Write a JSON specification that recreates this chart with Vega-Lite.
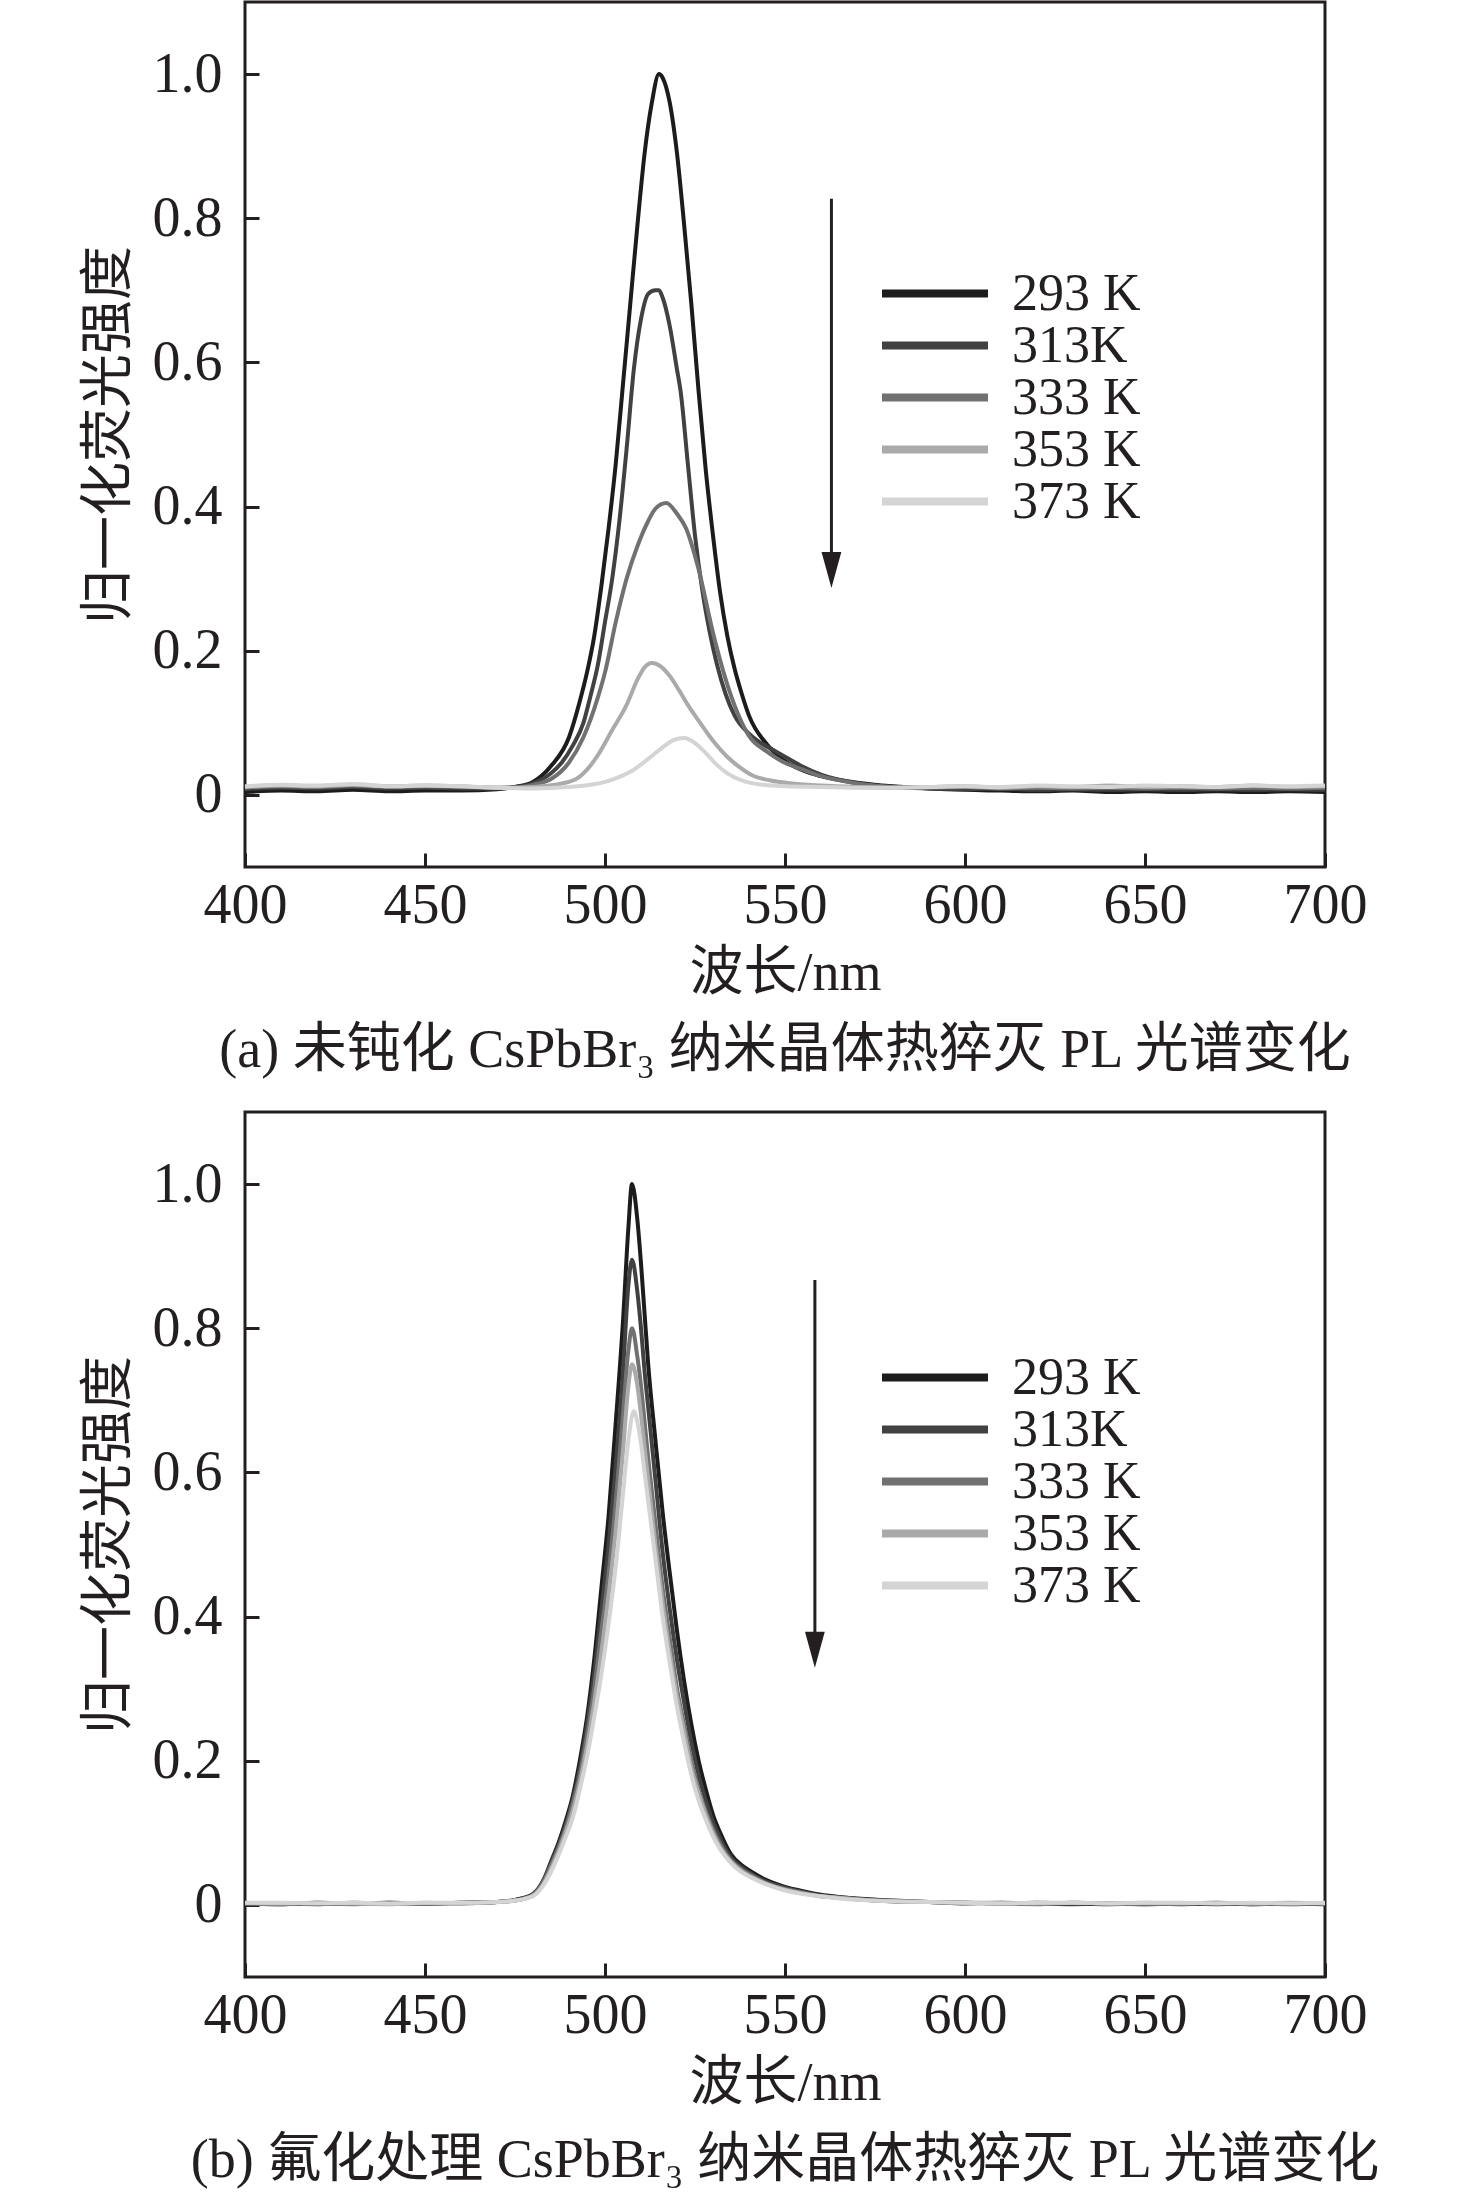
{
  "$schema": "https://vega.github.io/schema/vega-lite/v6.json",
  "background": "white",
  "padding": {"left": 80, "top": 0, "right": 0, "bottom": 0},
  "spacing": 30,
  "datasets": {
    "a": [
      {"T":"293 K","wl":400,"I":0.004},{"T":"293 K","wl":410,"I":0.006},{"T":"293 K","wl":420,"I":0.005},{"T":"293 K","wl":430,"I":0.007},{"T":"293 K","wl":440,"I":0.005},{"T":"293 K","wl":450,"I":0.006},{"T":"293 K","wl":460,"I":0.006},{"T":"293 K","wl":470,"I":0.008},{"T":"293 K","wl":475,"I":0.011},{"T":"293 K","wl":480,"I":0.018},{"T":"293 K","wl":485,"I":0.04},{"T":"293 K","wl":490,"I":0.08},{"T":"293 K","wl":493,"I":0.13},{"T":"293 K","wl":495,"I":0.17},{"T":"293 K","wl":497,"I":0.22},{"T":"293 K","wl":499,"I":0.29},{"T":"293 K","wl":501,"I":0.37},{"T":"293 K","wl":503,"I":0.46},{"T":"293 K","wl":505,"I":0.57},{"T":"293 K","wl":507,"I":0.68},{"T":"293 K","wl":509,"I":0.79},{"T":"293 K","wl":511,"I":0.89},{"T":"293 K","wl":513,"I":0.96},{"T":"293 K","wl":515,"I":1.0},{"T":"293 K","wl":516,"I":0.995},{"T":"293 K","wl":518,"I":0.96},{"T":"293 K","wl":520,"I":0.89},{"T":"293 K","wl":522,"I":0.79},{"T":"293 K","wl":524,"I":0.68},{"T":"293 K","wl":526,"I":0.56},{"T":"293 K","wl":528,"I":0.45},{"T":"293 K","wl":530,"I":0.36},{"T":"293 K","wl":532,"I":0.28},{"T":"293 K","wl":534,"I":0.22},{"T":"293 K","wl":536,"I":0.175},{"T":"293 K","wl":538,"I":0.14},{"T":"293 K","wl":540,"I":0.11},{"T":"293 K","wl":545,"I":0.07},{"T":"293 K","wl":550,"I":0.047},{"T":"293 K","wl":555,"I":0.034},{"T":"293 K","wl":560,"I":0.026},{"T":"293 K","wl":570,"I":0.017},{"T":"293 K","wl":580,"I":0.012},{"T":"293 K","wl":590,"I":0.009},{"T":"293 K","wl":600,"I":0.007},{"T":"293 K","wl":610,"I":0.006},{"T":"293 K","wl":620,"I":0.005},{"T":"293 K","wl":630,"I":0.006},{"T":"293 K","wl":640,"I":0.004},{"T":"293 K","wl":650,"I":0.005},{"T":"293 K","wl":660,"I":0.004},{"T":"293 K","wl":670,"I":0.005},{"T":"293 K","wl":680,"I":0.004},{"T":"293 K","wl":690,"I":0.005},{"T":"293 K","wl":700,"I":0.004},

      {"T":"313K","wl":400,"I":0.008},{"T":"313K","wl":410,"I":0.01},{"T":"313K","wl":420,"I":0.009},{"T":"313K","wl":430,"I":0.011},{"T":"313K","wl":440,"I":0.009},{"T":"313K","wl":450,"I":0.01},{"T":"313K","wl":460,"I":0.009},{"T":"313K","wl":470,"I":0.009},{"T":"313K","wl":475,"I":0.011},{"T":"313K","wl":480,"I":0.016},{"T":"313K","wl":485,"I":0.03},{"T":"313K","wl":488,"I":0.045},{"T":"313K","wl":491,"I":0.068},{"T":"313K","wl":494,"I":0.1},{"T":"313K","wl":496,"I":0.138},{"T":"313K","wl":498,"I":0.18},{"T":"313K","wl":500,"I":0.24},{"T":"313K","wl":502,"I":0.3},{"T":"313K","wl":504,"I":0.38},{"T":"313K","wl":506,"I":0.48},{"T":"313K","wl":508,"I":0.59},{"T":"313K","wl":510,"I":0.66},{"T":"313K","wl":512,"I":0.695},{"T":"313K","wl":514,"I":0.7},{"T":"313K","wl":515,"I":0.7},{"T":"313K","wl":516,"I":0.69},{"T":"313K","wl":518,"I":0.65},{"T":"313K","wl":520,"I":0.59},{"T":"313K","wl":521,"I":0.56},{"T":"313K","wl":523,"I":0.46},{"T":"313K","wl":525,"I":0.36},{"T":"313K","wl":527,"I":0.285},{"T":"313K","wl":529,"I":0.228},{"T":"313K","wl":531,"I":0.183},{"T":"313K","wl":533.5,"I":0.14},{"T":"313K","wl":536,"I":0.11},{"T":"313K","wl":540,"I":0.085},{"T":"313K","wl":543,"I":0.073},{"T":"313K","wl":546.5,"I":0.063},{"T":"313K","wl":550,"I":0.053},{"T":"313K","wl":555,"I":0.039},{"T":"313K","wl":560,"I":0.028},{"T":"313K","wl":570,"I":0.016},{"T":"313K","wl":580,"I":0.011},{"T":"313K","wl":590,"I":0.009},{"T":"313K","wl":600,"I":0.008},{"T":"313K","wl":610,"I":0.009},{"T":"313K","wl":620,"I":0.007},{"T":"313K","wl":630,"I":0.008},{"T":"313K","wl":640,"I":0.007},{"T":"313K","wl":650,"I":0.008},{"T":"313K","wl":660,"I":0.007},{"T":"313K","wl":670,"I":0.008},{"T":"313K","wl":680,"I":0.007},{"T":"313K","wl":690,"I":0.008},{"T":"313K","wl":700,"I":0.007},

      {"T":"333 K","wl":400,"I":0.01},{"T":"333 K","wl":410,"I":0.012},{"T":"333 K","wl":420,"I":0.011},{"T":"333 K","wl":430,"I":0.013},{"T":"333 K","wl":440,"I":0.011},{"T":"333 K","wl":450,"I":0.012},{"T":"333 K","wl":460,"I":0.011},{"T":"333 K","wl":470,"I":0.01},{"T":"333 K","wl":475,"I":0.01},{"T":"333 K","wl":480,"I":0.014},{"T":"333 K","wl":485,"I":0.022},{"T":"333 K","wl":490,"I":0.045},{"T":"333 K","wl":494,"I":0.08},{"T":"333 K","wl":498,"I":0.135},{"T":"333 K","wl":500,"I":0.17},{"T":"333 K","wl":503,"I":0.24},{"T":"333 K","wl":506,"I":0.3},{"T":"333 K","wl":509,"I":0.345},{"T":"333 K","wl":512,"I":0.38},{"T":"333 K","wl":514,"I":0.397},{"T":"333 K","wl":517,"I":0.405},{"T":"333 K","wl":520,"I":0.39},{"T":"333 K","wl":522.5,"I":0.37},{"T":"333 K","wl":526,"I":0.313},{"T":"333 K","wl":530,"I":0.225},{"T":"333 K","wl":534.5,"I":0.145},{"T":"333 K","wl":540,"I":0.082},{"T":"333 K","wl":545,"I":0.06},{"T":"333 K","wl":549,"I":0.047},{"T":"333 K","wl":555,"I":0.035},{"T":"333 K","wl":560,"I":0.026},{"T":"333 K","wl":570,"I":0.016},{"T":"333 K","wl":580,"I":0.011},{"T":"333 K","wl":590,"I":0.01},{"T":"333 K","wl":600,"I":0.011},{"T":"333 K","wl":610,"I":0.009},{"T":"333 K","wl":620,"I":0.01},{"T":"333 K","wl":630,"I":0.009},{"T":"333 K","wl":640,"I":0.01},{"T":"333 K","wl":650,"I":0.009},{"T":"333 K","wl":660,"I":0.01},{"T":"333 K","wl":670,"I":0.009},{"T":"333 K","wl":680,"I":0.01},{"T":"333 K","wl":690,"I":0.009},{"T":"333 K","wl":700,"I":0.01},

      {"T":"353 K","wl":400,"I":0.011},{"T":"353 K","wl":410,"I":0.013},{"T":"353 K","wl":420,"I":0.012},{"T":"353 K","wl":430,"I":0.014},{"T":"353 K","wl":440,"I":0.012},{"T":"353 K","wl":450,"I":0.013},{"T":"353 K","wl":460,"I":0.012},{"T":"353 K","wl":470,"I":0.01},{"T":"353 K","wl":480,"I":0.011},{"T":"353 K","wl":486,"I":0.014},{"T":"353 K","wl":492,"I":0.022},{"T":"353 K","wl":495,"I":0.035},{"T":"353 K","wl":498,"I":0.055},{"T":"353 K","wl":502,"I":0.09},{"T":"353 K","wl":506,"I":0.125},{"T":"353 K","wl":509,"I":0.16},{"T":"353 K","wl":511,"I":0.177},{"T":"353 K","wl":513,"I":0.183},{"T":"353 K","wl":515,"I":0.18},{"T":"353 K","wl":518,"I":0.165},{"T":"353 K","wl":520.6,"I":0.145},{"T":"353 K","wl":523,"I":0.125},{"T":"353 K","wl":526,"I":0.103},{"T":"353 K","wl":530,"I":0.075},{"T":"353 K","wl":533.5,"I":0.055},{"T":"353 K","wl":537,"I":0.04},{"T":"353 K","wl":541,"I":0.027},{"T":"353 K","wl":546,"I":0.02},{"T":"353 K","wl":552,"I":0.016},{"T":"353 K","wl":560,"I":0.013},{"T":"353 K","wl":570,"I":0.011},{"T":"353 K","wl":580,"I":0.01},{"T":"353 K","wl":590,"I":0.011},{"T":"353 K","wl":600,"I":0.012},{"T":"353 K","wl":610,"I":0.01},{"T":"353 K","wl":620,"I":0.012},{"T":"353 K","wl":630,"I":0.011},{"T":"353 K","wl":640,"I":0.013},{"T":"353 K","wl":650,"I":0.011},{"T":"353 K","wl":660,"I":0.012},{"T":"353 K","wl":670,"I":0.011},{"T":"353 K","wl":680,"I":0.013},{"T":"353 K","wl":690,"I":0.011},{"T":"353 K","wl":700,"I":0.012},

      {"T":"373 K","wl":400,"I":0.012},{"T":"373 K","wl":410,"I":0.014},{"T":"373 K","wl":420,"I":0.013},{"T":"373 K","wl":430,"I":0.015},{"T":"373 K","wl":440,"I":0.012},{"T":"373 K","wl":450,"I":0.013},{"T":"373 K","wl":460,"I":0.012},{"T":"373 K","wl":470,"I":0.01},{"T":"373 K","wl":480,"I":0.009},{"T":"373 K","wl":490,"I":0.011},{"T":"373 K","wl":496,"I":0.014},{"T":"373 K","wl":500,"I":0.018},{"T":"373 K","wl":504,"I":0.025},{"T":"373 K","wl":508,"I":0.035},{"T":"373 K","wl":512,"I":0.05},{"T":"373 K","wl":516,"I":0.066},{"T":"373 K","wl":519,"I":0.076},{"T":"373 K","wl":522,"I":0.079},{"T":"373 K","wl":525,"I":0.072},{"T":"373 K","wl":528,"I":0.058},{"T":"373 K","wl":531,"I":0.042},{"T":"373 K","wl":534,"I":0.03},{"T":"373 K","wl":538,"I":0.02},{"T":"373 K","wl":544,"I":0.014},{"T":"373 K","wl":550,"I":0.012},{"T":"373 K","wl":560,"I":0.011},{"T":"373 K","wl":570,"I":0.01},{"T":"373 K","wl":580,"I":0.01},{"T":"373 K","wl":590,"I":0.011},{"T":"373 K","wl":600,"I":0.012},{"T":"373 K","wl":610,"I":0.011},{"T":"373 K","wl":620,"I":0.013},{"T":"373 K","wl":630,"I":0.012},{"T":"373 K","wl":640,"I":0.011},{"T":"373 K","wl":650,"I":0.013},{"T":"373 K","wl":660,"I":0.012},{"T":"373 K","wl":670,"I":0.011},{"T":"373 K","wl":680,"I":0.013},{"T":"373 K","wl":690,"I":0.012},{"T":"373 K","wl":700,"I":0.013}
    ],
    "b": [
      {"T":"293 K","wl":400,"I":0.002},{"T":"293 K","wl":410,"I":0.001},{"T":"293 K","wl":420,"I":0.003},{"T":"293 K","wl":430,"I":0.002},{"T":"293 K","wl":440,"I":0.003},{"T":"293 K","wl":450,"I":0.002},{"T":"293 K","wl":460,"I":0.003},{"T":"293 K","wl":470,"I":0.004},{"T":"293 K","wl":475,"I":0.007},{"T":"293 K","wl":480,"I":0.015},{"T":"293 K","wl":483,"I":0.035},{"T":"293 K","wl":485,"I":0.06},{"T":"293 K","wl":487,"I":0.085},{"T":"293 K","wl":489,"I":0.115},{"T":"293 K","wl":491,"I":0.15},{"T":"293 K","wl":493,"I":0.2},{"T":"293 K","wl":495,"I":0.26},{"T":"293 K","wl":497,"I":0.34},{"T":"293 K","wl":499,"I":0.44},{"T":"293 K","wl":501,"I":0.54},{"T":"293 K","wl":503,"I":0.67},{"T":"293 K","wl":505,"I":0.81},{"T":"293 K","wl":506.5,"I":0.94},{"T":"293 K","wl":507.5,"I":1.0},{"T":"293 K","wl":509,"I":0.95},{"T":"293 K","wl":510,"I":0.89},{"T":"293 K","wl":511,"I":0.82},{"T":"293 K","wl":512,"I":0.75},{"T":"293 K","wl":514,"I":0.645},{"T":"293 K","wl":516,"I":0.545},{"T":"293 K","wl":518,"I":0.46},{"T":"293 K","wl":520,"I":0.38},{"T":"293 K","wl":522,"I":0.31},{"T":"293 K","wl":524,"I":0.25},{"T":"293 K","wl":526,"I":0.2},{"T":"293 K","wl":528,"I":0.16},{"T":"293 K","wl":530,"I":0.125},{"T":"293 K","wl":532,"I":0.1},{"T":"293 K","wl":535,"I":0.07},{"T":"293 K","wl":538,"I":0.055},{"T":"293 K","wl":541,"I":0.045},{"T":"293 K","wl":545,"I":0.034},{"T":"293 K","wl":550,"I":0.025},{"T":"293 K","wl":555,"I":0.019},{"T":"293 K","wl":560,"I":0.014},{"T":"293 K","wl":565,"I":0.011},{"T":"293 K","wl":570,"I":0.009},{"T":"293 K","wl":580,"I":0.006},{"T":"293 K","wl":590,"I":0.004},{"T":"293 K","wl":600,"I":0.003},{"T":"293 K","wl":610,"I":0.002},{"T":"293 K","wl":620,"I":0.003},{"T":"293 K","wl":630,"I":0.002},{"T":"293 K","wl":640,"I":0.001},{"T":"293 K","wl":650,"I":0.002},{"T":"293 K","wl":660,"I":0.001},{"T":"293 K","wl":670,"I":0.002},{"T":"293 K","wl":680,"I":0.001},{"T":"293 K","wl":690,"I":0.002},{"T":"293 K","wl":700,"I":0.001},

      {"T":"313K","wl":400,"I":0.001},{"T":"313K","wl":410,"I":0.002},{"T":"313K","wl":420,"I":0.001},{"T":"313K","wl":430,"I":0.003},{"T":"313K","wl":440,"I":0.002},{"T":"313K","wl":450,"I":0.002},{"T":"313K","wl":460,"I":0.003},{"T":"313K","wl":470,"I":0.004},{"T":"313K","wl":475,"I":0.007},{"T":"313K","wl":480,"I":0.015},{"T":"313K","wl":483,"I":0.035},{"T":"313K","wl":485,"I":0.058},{"T":"313K","wl":487,"I":0.082},{"T":"313K","wl":489,"I":0.11},{"T":"313K","wl":491,"I":0.145},{"T":"313K","wl":493,"I":0.19},{"T":"313K","wl":495,"I":0.25},{"T":"313K","wl":497,"I":0.32},{"T":"313K","wl":499,"I":0.41},{"T":"313K","wl":501,"I":0.5},{"T":"313K","wl":503,"I":0.61},{"T":"313K","wl":505,"I":0.74},{"T":"313K","wl":506.5,"I":0.86},{"T":"313K","wl":507.5,"I":0.895},{"T":"313K","wl":509,"I":0.85},{"T":"313K","wl":510,"I":0.8},{"T":"313K","wl":511,"I":0.74},{"T":"313K","wl":512,"I":0.69},{"T":"313K","wl":514,"I":0.59},{"T":"313K","wl":516,"I":0.49},{"T":"313K","wl":518,"I":0.41},{"T":"313K","wl":520,"I":0.34},{"T":"313K","wl":522,"I":0.28},{"T":"313K","wl":524,"I":0.225},{"T":"313K","wl":526,"I":0.18},{"T":"313K","wl":528,"I":0.145},{"T":"313K","wl":530,"I":0.115},{"T":"313K","wl":532,"I":0.092},{"T":"313K","wl":535,"I":0.066},{"T":"313K","wl":538,"I":0.052},{"T":"313K","wl":541,"I":0.042},{"T":"313K","wl":545,"I":0.032},{"T":"313K","wl":550,"I":0.024},{"T":"313K","wl":555,"I":0.018},{"T":"313K","wl":560,"I":0.013},{"T":"313K","wl":565,"I":0.01},{"T":"313K","wl":570,"I":0.008},{"T":"313K","wl":580,"I":0.005},{"T":"313K","wl":590,"I":0.004},{"T":"313K","wl":600,"I":0.002},{"T":"313K","wl":610,"I":0.003},{"T":"313K","wl":620,"I":0.002},{"T":"313K","wl":630,"I":0.001},{"T":"313K","wl":640,"I":0.002},{"T":"313K","wl":650,"I":0.001},{"T":"313K","wl":660,"I":0.002},{"T":"313K","wl":670,"I":0.001},{"T":"313K","wl":680,"I":0.002},{"T":"313K","wl":690,"I":0.001},{"T":"313K","wl":700,"I":0.002},

      {"T":"333 K","wl":400,"I":0.002},{"T":"333 K","wl":410,"I":0.001},{"T":"333 K","wl":420,"I":0.002},{"T":"333 K","wl":430,"I":0.001},{"T":"333 K","wl":440,"I":0.003},{"T":"333 K","wl":450,"I":0.002},{"T":"333 K","wl":460,"I":0.002},{"T":"333 K","wl":470,"I":0.004},{"T":"333 K","wl":475,"I":0.006},{"T":"333 K","wl":480,"I":0.014},{"T":"333 K","wl":483,"I":0.033},{"T":"333 K","wl":485,"I":0.055},{"T":"333 K","wl":487,"I":0.078},{"T":"333 K","wl":489,"I":0.105},{"T":"333 K","wl":491,"I":0.14},{"T":"333 K","wl":493,"I":0.18},{"T":"333 K","wl":495,"I":0.235},{"T":"333 K","wl":497,"I":0.3},{"T":"333 K","wl":499,"I":0.38},{"T":"333 K","wl":501,"I":0.46},{"T":"333 K","wl":503,"I":0.56},{"T":"333 K","wl":505,"I":0.68},{"T":"333 K","wl":506.5,"I":0.77},{"T":"333 K","wl":507.5,"I":0.8},{"T":"333 K","wl":509,"I":0.76},{"T":"333 K","wl":510,"I":0.72},{"T":"333 K","wl":511,"I":0.67},{"T":"333 K","wl":512,"I":0.62},{"T":"333 K","wl":514,"I":0.53},{"T":"333 K","wl":516,"I":0.44},{"T":"333 K","wl":518,"I":0.37},{"T":"333 K","wl":520,"I":0.3},{"T":"333 K","wl":522,"I":0.25},{"T":"333 K","wl":524,"I":0.2},{"T":"333 K","wl":526,"I":0.16},{"T":"333 K","wl":528,"I":0.13},{"T":"333 K","wl":530,"I":0.105},{"T":"333 K","wl":532,"I":0.085},{"T":"333 K","wl":535,"I":0.062},{"T":"333 K","wl":538,"I":0.049},{"T":"333 K","wl":541,"I":0.04},{"T":"333 K","wl":545,"I":0.03},{"T":"333 K","wl":550,"I":0.022},{"T":"333 K","wl":555,"I":0.017},{"T":"333 K","wl":560,"I":0.012},{"T":"333 K","wl":565,"I":0.01},{"T":"333 K","wl":570,"I":0.008},{"T":"333 K","wl":580,"I":0.005},{"T":"333 K","wl":590,"I":0.004},{"T":"333 K","wl":600,"I":0.003},{"T":"333 K","wl":610,"I":0.002},{"T":"333 K","wl":620,"I":0.001},{"T":"333 K","wl":630,"I":0.003},{"T":"333 K","wl":640,"I":0.002},{"T":"333 K","wl":650,"I":0.001},{"T":"333 K","wl":660,"I":0.002},{"T":"333 K","wl":670,"I":0.003},{"T":"333 K","wl":680,"I":0.001},{"T":"333 K","wl":690,"I":0.002},{"T":"333 K","wl":700,"I":0.002},

      {"T":"353 K","wl":400,"I":0.003},{"T":"353 K","wl":410,"I":0.002},{"T":"353 K","wl":420,"I":0.003},{"T":"353 K","wl":430,"I":0.002},{"T":"353 K","wl":440,"I":0.001},{"T":"353 K","wl":450,"I":0.003},{"T":"353 K","wl":460,"I":0.002},{"T":"353 K","wl":470,"I":0.004},{"T":"353 K","wl":475,"I":0.006},{"T":"353 K","wl":480,"I":0.013},{"T":"353 K","wl":483,"I":0.03},{"T":"353 K","wl":485,"I":0.05},{"T":"353 K","wl":487,"I":0.073},{"T":"353 K","wl":489,"I":0.1},{"T":"353 K","wl":491,"I":0.13},{"T":"353 K","wl":493,"I":0.17},{"T":"353 K","wl":495,"I":0.22},{"T":"353 K","wl":497,"I":0.28},{"T":"353 K","wl":499,"I":0.35},{"T":"353 K","wl":501,"I":0.43},{"T":"353 K","wl":503,"I":0.52},{"T":"353 K","wl":505,"I":0.63},{"T":"353 K","wl":506.5,"I":0.72},{"T":"353 K","wl":507.5,"I":0.75},{"T":"353 K","wl":509,"I":0.72},{"T":"353 K","wl":510,"I":0.68},{"T":"353 K","wl":511,"I":0.635},{"T":"353 K","wl":512,"I":0.59},{"T":"353 K","wl":514,"I":0.5},{"T":"353 K","wl":516,"I":0.42},{"T":"353 K","wl":518,"I":0.35},{"T":"353 K","wl":520,"I":0.29},{"T":"353 K","wl":522,"I":0.24},{"T":"353 K","wl":524,"I":0.19},{"T":"353 K","wl":526,"I":0.155},{"T":"353 K","wl":528,"I":0.125},{"T":"353 K","wl":530,"I":0.1},{"T":"353 K","wl":532,"I":0.08},{"T":"353 K","wl":535,"I":0.06},{"T":"353 K","wl":538,"I":0.047},{"T":"353 K","wl":541,"I":0.038},{"T":"353 K","wl":545,"I":0.029},{"T":"353 K","wl":550,"I":0.021},{"T":"353 K","wl":555,"I":0.016},{"T":"353 K","wl":560,"I":0.012},{"T":"353 K","wl":565,"I":0.01},{"T":"353 K","wl":570,"I":0.008},{"T":"353 K","wl":580,"I":0.005},{"T":"353 K","wl":590,"I":0.004},{"T":"353 K","wl":600,"I":0.003},{"T":"353 K","wl":610,"I":0.003},{"T":"353 K","wl":620,"I":0.002},{"T":"353 K","wl":630,"I":0.003},{"T":"353 K","wl":640,"I":0.002},{"T":"353 K","wl":650,"I":0.003},{"T":"353 K","wl":660,"I":0.002},{"T":"353 K","wl":670,"I":0.003},{"T":"353 K","wl":680,"I":0.002},{"T":"353 K","wl":690,"I":0.003},{"T":"353 K","wl":700,"I":0.002},

      {"T":"373 K","wl":400,"I":0.003},{"T":"373 K","wl":410,"I":0.003},{"T":"373 K","wl":420,"I":0.002},{"T":"373 K","wl":430,"I":0.003},{"T":"373 K","wl":440,"I":0.002},{"T":"373 K","wl":450,"I":0.003},{"T":"373 K","wl":460,"I":0.003},{"T":"373 K","wl":470,"I":0.004},{"T":"373 K","wl":475,"I":0.006},{"T":"373 K","wl":480,"I":0.012},{"T":"373 K","wl":483,"I":0.028},{"T":"373 K","wl":485,"I":0.046},{"T":"373 K","wl":487,"I":0.068},{"T":"373 K","wl":489,"I":0.093},{"T":"373 K","wl":491,"I":0.12},{"T":"373 K","wl":493,"I":0.16},{"T":"373 K","wl":495,"I":0.205},{"T":"373 K","wl":497,"I":0.26},{"T":"373 K","wl":499,"I":0.32},{"T":"373 K","wl":501,"I":0.39},{"T":"373 K","wl":503,"I":0.47},{"T":"373 K","wl":505,"I":0.57},{"T":"373 K","wl":506.5,"I":0.645},{"T":"373 K","wl":508,"I":0.685},{"T":"373 K","wl":509,"I":0.67},{"T":"373 K","wl":510,"I":0.64},{"T":"373 K","wl":511,"I":0.6},{"T":"373 K","wl":512,"I":0.56},{"T":"373 K","wl":514,"I":0.48},{"T":"373 K","wl":516,"I":0.4},{"T":"373 K","wl":518,"I":0.335},{"T":"373 K","wl":520,"I":0.275},{"T":"373 K","wl":522,"I":0.225},{"T":"373 K","wl":524,"I":0.18},{"T":"373 K","wl":526,"I":0.145},{"T":"373 K","wl":528,"I":0.118},{"T":"373 K","wl":530,"I":0.095},{"T":"373 K","wl":532,"I":0.077},{"T":"373 K","wl":535,"I":0.058},{"T":"373 K","wl":538,"I":0.045},{"T":"373 K","wl":541,"I":0.037},{"T":"373 K","wl":545,"I":0.028},{"T":"373 K","wl":550,"I":0.02},{"T":"373 K","wl":555,"I":0.015},{"T":"373 K","wl":560,"I":0.012},{"T":"373 K","wl":565,"I":0.009},{"T":"373 K","wl":570,"I":0.007},{"T":"373 K","wl":580,"I":0.005},{"T":"373 K","wl":590,"I":0.004},{"T":"373 K","wl":600,"I":0.003},{"T":"373 K","wl":610,"I":0.002},{"T":"373 K","wl":620,"I":0.003},{"T":"373 K","wl":630,"I":0.003},{"T":"373 K","wl":640,"I":0.002},{"T":"373 K","wl":650,"I":0.003},{"T":"373 K","wl":660,"I":0.003},{"T":"373 K","wl":670,"I":0.002},{"T":"373 K","wl":680,"I":0.003},{"T":"373 K","wl":690,"I":0.002},{"T":"373 K","wl":700,"I":0.003}
    ],
    "arrows": [
      {"panel": "a", "wl": 562.9, "top": 0.827, "tip": 0.312},
      {"panel": "b", "wl": 558.3, "top": 0.867, "tip": 0.354}
    ]
  },
  "vconcat": [
    {
      "width": 1080,
      "height": 865,
      "title": {"text": "(a) 未钝化 CsPbBr₃ 纳米晶体热猝灭 PL 光谱变化"},
      "layer": [
        {
          "data": {"name": "a"},
          "mark": {"type": "line", "strokeWidth": 4, "interpolate": "monotone"},
          "encoding": {
            "x": {"field": "wl", "type": "quantitative", "title": "波长/nm",
                  "scale": {"domain": [400, 700], "nice": false, "zero": false},
                  "axis": {"values": [400, 450, 500, 550, 600, 650, 700]}},
            "y": {"field": "I", "type": "quantitative", "title": "归一化荧光强度",
                  "scale": {"domain": [-0.1, 1.1], "nice": false, "zero": false},
                  "axis": {"values": [0, 0.2, 0.4, 0.6, 0.8, 1.0],
                           "labelExpr": "datum.value == 0 ? '0' : format(datum.value, '.1f')"}},
            "color": {"field": "T", "type": "nominal",
                      "scale": {"domain": ["293 K", "313K", "333 K", "353 K", "373 K"],
                                "range": ["#1c1c1c", "#414141", "#717171", "#aaaaaa", "#d4d4d4"]},
                      "legend": {"legendX": 633, "legendY": 266}}
          }
        },
        {
          "data": {"name": "arrows"},
          "transform": [{"filter": "datum.panel == 'a'"}],
          "mark": {"type": "rule", "strokeWidth": 3, "color": "#231f20"},
          "encoding": {
            "x": {"field": "wl", "type": "quantitative"},
            "y": {"field": "top", "type": "quantitative"},
            "y2": {"field": "tip"}
          }
        },
        {
          "data": {"name": "arrows"},
          "transform": [{"filter": "datum.panel == 'a'"}],
          "mark": {"type": "point", "shape": "M-0.55,-1L0.55,-1L0,1Z", "size": 1296, "filled": true, "color": "#231f20", "opacity": 1},
          "encoding": {
            "x": {"field": "wl", "type": "quantitative"},
            "y": {"field": "tip", "type": "quantitative"}
          }
        }
      ]
    },
    {
      "width": 1080,
      "height": 865,
      "title": {"text": "(b) 氟化处理 CsPbBr₃ 纳米晶体热猝灭 PL 光谱变化"},
      "layer": [
        {
          "data": {"name": "b"},
          "mark": {"type": "line", "strokeWidth": 4, "interpolate": "monotone"},
          "encoding": {
            "x": {"field": "wl", "type": "quantitative", "title": "波长/nm",
                  "scale": {"domain": [400, 700], "nice": false, "zero": false},
                  "axis": {"values": [400, 450, 500, 550, 600, 650, 700]}},
            "y": {"field": "I", "type": "quantitative", "title": "归一化荧光强度",
                  "scale": {"domain": [-0.1, 1.1], "nice": false, "zero": false},
                  "axis": {"values": [0, 0.2, 0.4, 0.6, 0.8, 1.0],
                           "labelExpr": "datum.value == 0 ? '0' : format(datum.value, '.1f')"}},
            "color": {"field": "T", "type": "nominal",
                      "scale": {"domain": ["293 K", "313K", "333 K", "353 K", "373 K"],
                                "range": ["#1c1c1c", "#414141", "#717171", "#aaaaaa", "#d4d4d4"]},
                      "legend": {"legendX": 633, "legendY": 240}}
          }
        },
        {
          "data": {"name": "arrows"},
          "transform": [{"filter": "datum.panel == 'b'"}],
          "mark": {"type": "rule", "strokeWidth": 3, "color": "#231f20"},
          "encoding": {
            "x": {"field": "wl", "type": "quantitative"},
            "y": {"field": "top", "type": "quantitative"},
            "y2": {"field": "tip"}
          }
        },
        {
          "data": {"name": "arrows"},
          "transform": [{"filter": "datum.panel == 'b'"}],
          "mark": {"type": "point", "shape": "M-0.55,-1L0.55,-1L0,1Z", "size": 1296, "filled": true, "color": "#231f20", "opacity": 1},
          "encoding": {
            "x": {"field": "wl", "type": "quantitative"},
            "y": {"field": "tip", "type": "quantitative"}
          }
        }
      ]
    }
  ],
  "resolve": {"scale": {"color": "independent"}, "legend": {"color": "independent"}},
  "config": {
    "view": {"stroke": "#231f20", "strokeWidth": 3},
    "font": "Liberation Serif",
    "axis": {
      "grid": false, "domain": false,
      "ticks": true, "tickSize": -14, "tickWidth": 3, "tickColor": "#231f20",
      "labelFont": "Liberation Serif", "labelFontSize": 56, "labelColor": "#231f20",
      "labelFlush": false, "labelOverlap": false,
      "titleFont": "Liberation Serif, Noto Sans CJK SC", "titleFontSize": 54,
      "titleFontWeight": "normal", "titleColor": "#231f20"
    },
    "axisX": {"labelPadding": 25, "titlePadding": 13},
    "axisY": {"labelPadding": 37, "titlePadding": 16},
    "legend": {
      "orient": "none", "title": null,
      "symbolType": "stroke", "symbolSize": 11236, "symbolStrokeWidth": 8,
      "clipHeight": 51, "rowPadding": -4, "padding": 0,
      "labelFont": "Liberation Serif", "labelFontSize": 52, "labelColor": "#231f20",
      "labelOffset": 20, "labelLimit": 0
    },
    "title": {
      "orient": "bottom", "anchor": "middle", "frame": "group",
      "font": "Liberation Serif, Noto Sans CJK SC", "fontSize": 54, "fontWeight": "normal",
      "color": "#231f20", "offset": 24
    }
  }
}
